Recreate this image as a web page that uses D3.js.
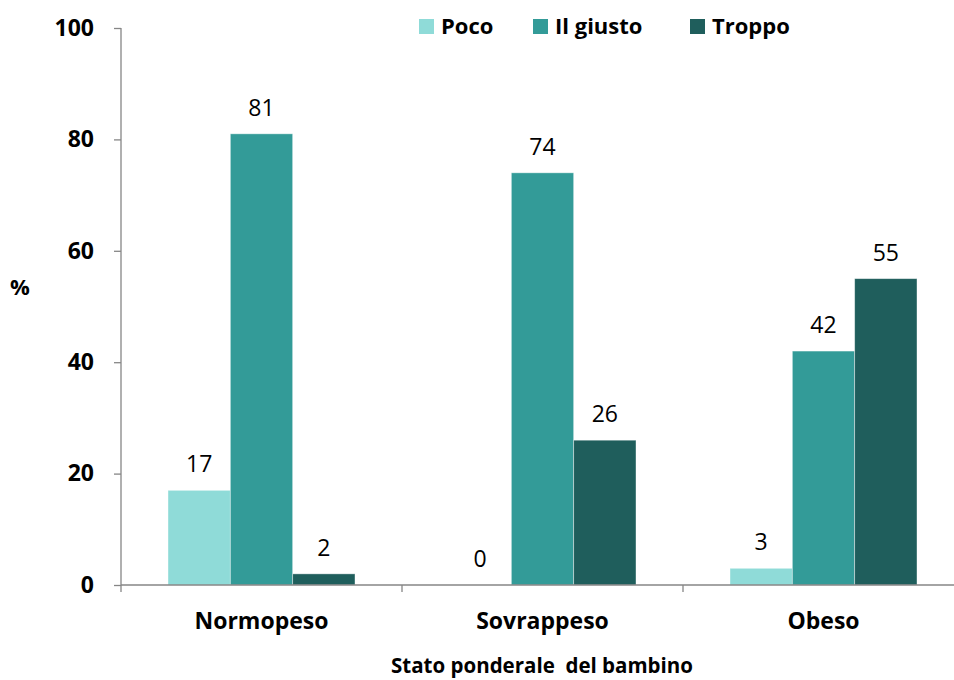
<!DOCTYPE html>
<html><head><meta charset="utf-8">
<script src="https://cdn.jsdelivr.net/npm/d3@7"></script>
<style>body{margin:0;background:#fff}svg{display:block}text{font-family:"Open Sans",sans-serif}</style>
</head><body>
<svg id="c" width="954" height="680"></svg>
<script>
const categories = ["Normopeso", "Sovrappeso", "Obeso"];
const series = ["Poco", "Il giusto", "Troppo"];
const poco = [17, 0, 3];
const ilGiusto = [81, 74, 42];
const troppo = [2, 26, 55];
const yTicks = [0, 20, 40, 60, 80, 100];
const colors = ["#8FDBD8", "#339B98", "#1F5E5C"];
const values = [poco, ilGiusto, troppo];

const svg = d3.select("#c");
const y = d3.scaleLinear().domain([0, 100]).range([585, 28]);
const x0 = d3.scaleBand().domain(categories).range([121, 964]).padding(0);
const x1 = d3.scaleBand().domain(series).range([0, x0.bandwidth()]).paddingInner(0).paddingOuter(0.754);

// axes
const yAxis = svg.append("g").attr("transform", "translate(121,0)")
  .call(d3.axisLeft(y).tickValues(yTicks).tickSize(7).tickPadding(20));
yAxis.select(".domain").attr("stroke", "#868686").attr("stroke-width", 1.3).attr("d", "M0,28V585");
yAxis.selectAll(".tick line").attr("stroke", "#868686").attr("stroke-width", 1.3);
yAxis.selectAll(".tick text").attr("font-size", 23).attr("font-weight", "bold").attr("fill", "#000");

// bars
categories.forEach((c, ci) => {
  series.forEach((s, si) => {
    const v = values[si][ci];
    svg.append("rect")
      .attr("x", x0(c) + x1(s)).attr("width", x1.bandwidth())
      .attr("y", y(v)).attr("height", y(0) - y(v))
      .attr("fill", colors[si]).attr("stroke", "rgba(255,255,255,0.5)").attr("stroke-width", 0.8);
    svg.append("text")
      .attr("x", x0(c) + x1(s) + x1.bandwidth() / 2).attr("y", y(v) - 18)
      .attr("text-anchor", "middle").attr("font-size", 23).attr("fill", "#000").text(v);
  });
});

const xAxis = svg.append("g").attr("transform", "translate(0,585)")
  .call(d3.axisBottom(x0).tickSize(0));
xAxis.select(".domain").attr("stroke", "#868686").attr("stroke-width", 1.3).attr("d", "M121,0H954");
xAxis.selectAll(".tick text").attr("y", 44).attr("dy", 0)
  .attr("font-size", 23).attr("font-weight", "bold").attr("fill", "#000");
const bounds = categories.map(c => x0(c)).concat([x0.range()[1]]);
svg.append("g").selectAll("line").data(bounds).join("line")
  .attr("x1", d => d).attr("x2", d => d).attr("y1", 585).attr("y2", 592)
  .attr("stroke", "#868686").attr("stroke-width", 1.3);

svg.append("text").attr("x", 542).attr("y", 673).attr("text-anchor", "middle")
  .attr("font-size", 20.5).attr("font-weight", "bold").style("white-space", "pre")
  .text("Stato ponderale  del bambino");
svg.append("text").attr("x", 20).attr("y", 295).attr("text-anchor", "middle")
  .attr("font-size", 22).attr("font-weight", "bold").text("%");

// legend
const legX = [419, 533, 690];
const leg = svg.append("g");
series.forEach((s, i) => {
  leg.append("rect").attr("x", legX[i]).attr("y", 19).attr("width", 15).attr("height", 15).attr("fill", colors[i]);
  leg.append("text").attr("x", legX[i] + 22).attr("y", 34).attr("font-size", 22).attr("font-weight", "bold").text(s);
});
</script>
</body></html>
